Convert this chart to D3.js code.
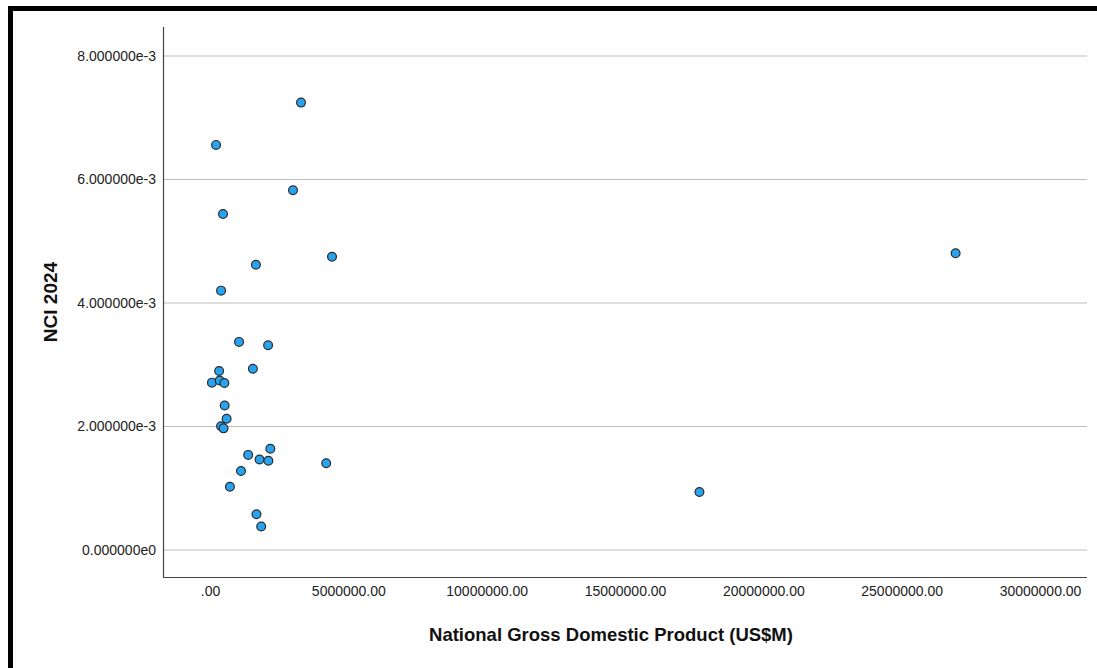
<!DOCTYPE html>
<html>
<head>
<meta charset="utf-8">
<script src="https://cdn.jsdelivr.net/npm/d3@7"></script>
<style>
  html, body { margin: 0; padding: 0; background: #fff; }
  svg { display: block; }
</style>
</head>
<body>
<script>
// Data (GDP in US$M, NCI 2024)
const gdp = [3290000, 220000, 3000000, 470000, 1660000, 4410000, 400000, 26950000,
             1050000, 2100000, 1550000, 330000, 70000, 350000, 520000, 530000,
             600000, 400000, 490000, 2180000, 1380000, 1790000, 2110000, 4200000,
             1120000, 720000, 17690000, 1680000, 1850000];
const nci = [7.245e-3, 6.56e-3, 5.825e-3, 5.44e-3, 4.62e-3, 4.75e-3, 4.2e-3, 4.805e-3,
             3.37e-3, 3.315e-3, 2.935e-3, 2.90e-3, 2.71e-3, 2.745e-3, 2.705e-3, 2.34e-3,
             2.125e-3, 2.005e-3, 1.97e-3, 1.64e-3, 1.54e-3, 1.465e-3, 1.445e-3, 1.405e-3,
             1.28e-3, 1.025e-3, 0.94e-3, 0.58e-3, 0.38e-3];
const xTicks = [0, 5000000, 10000000, 15000000, 20000000, 25000000, 30000000];
const xTickLabels = [".00", "5000000.00", "10000000.00", "15000000.00", "20000000.00", "25000000.00", "30000000.00"];
const yTicks = [0, 0.002, 0.004, 0.006, 0.008];
const yTickLabels = ["0.000000e0", "2.000000e-3", "4.000000e-3", "6.000000e-3", "8.000000e-3"];
const xTitle = "National Gross Domestic Product (US$M)";
const yTitle = "NCI 2024";

const W = 1097, H = 668;
const svg = d3.select("body").append("svg").attr("width", W).attr("height", H);

// outer frame (top and left visible)
svg.append("rect").attr("x", 8).attr("y", 6).attr("width", W).attr("height", 5).attr("fill", "#000");
svg.append("rect").attr("x", 8).attr("y", 6).attr("width", 5).attr("height", H).attr("fill", "#000");

const plotL = 163, plotR = 1087, plotT = 27, plotB = 577;

const x = d3.scaleLinear().domain([0, 30000000]).range([210, 1040]);
const y = d3.scaleLinear().domain([0, 0.008]).range([550, 56]);

// gridlines
svg.append("g").selectAll("line").data(yTicks).join("line")
  .attr("x1", plotL).attr("x2", plotR)
  .attr("y1", d => y(d)).attr("y2", d => y(d))
  .attr("stroke", "#bdbdbd").attr("stroke-width", 1.2);

// axes lines
svg.append("line").attr("x1", plotL + 0.5).attr("x2", plotL + 0.5).attr("y1", plotT).attr("y2", plotB)
  .attr("stroke", "#444").attr("stroke-width", 1.2);
svg.append("line").attr("x1", plotL).attr("x2", plotR).attr("y1", plotB + 0.5).attr("y2", plotB + 0.5)
  .attr("stroke", "#444").attr("stroke-width", 1.2);

const FONT = "Liberation Sans, Arial, sans-serif";

// y tick labels
const yAxis = d3.axisLeft(y).tickValues(yTicks).tickSize(0).tickPadding(0)
  .tickFormat((d, i) => yTickLabels[i]);
const gy = svg.append("g").attr("transform", `translate(156,0)`).call(yAxis);
gy.select(".domain").remove();
gy.selectAll("text").attr("font-family", FONT).attr("font-size", 14).attr("fill", "#222");

// x tick labels
const xAxis = d3.axisBottom(x).tickValues(xTicks).tickSize(0).tickPadding(0)
  .tickFormat((d, i) => xTickLabels[i]);
const gx = svg.append("g").attr("transform", `translate(0,586)`).call(xAxis);
gx.select(".domain").remove();
gx.selectAll("text").attr("font-family", FONT).attr("font-size", 14).attr("fill", "#222");

// titles
svg.append("text").attr("x", 611).attr("y", 641).attr("text-anchor", "middle")
  .attr("font-family", FONT).attr("font-weight", "bold")
  .attr("font-size", 18.5).attr("fill", "#111").text(xTitle);
svg.append("text").attr("transform", "translate(57,302) rotate(-90)").attr("text-anchor", "middle")
  .attr("font-family", FONT).attr("font-weight", "bold")
  .attr("font-size", 19).attr("fill", "#111").text(yTitle);

// points
svg.append("g").selectAll("circle").data(gdp.map((g, i) => [g, nci[i]])).join("circle")
  .attr("cx", d => x(d[0])).attr("cy", d => y(d[1])).attr("r", 4.4)
  .attr("fill", "#27a3f0").attr("stroke", "#2b2b2b").attr("stroke-width", 1.2);
</script>
</body>
</html>
